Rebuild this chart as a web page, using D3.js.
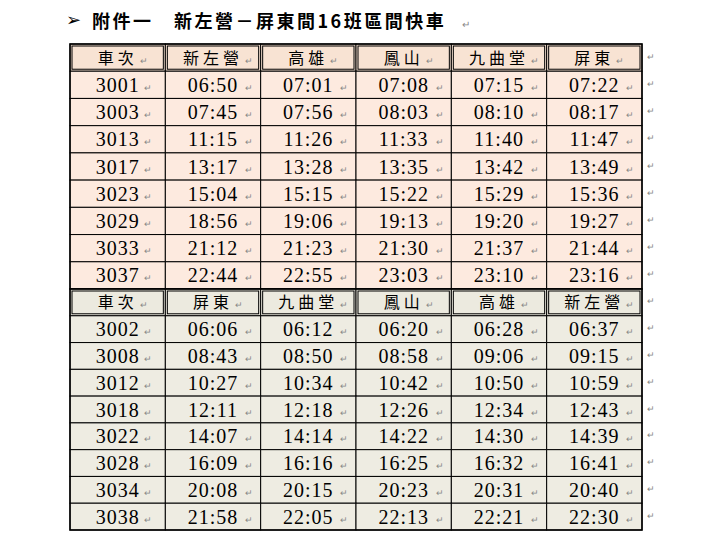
<!DOCTYPE html><html><head><meta charset="utf-8"><script src="https://cdn.jsdelivr.net/npm/d3@7"></script>
<style>body{margin:0;background:#fff}</style></head><body><svg id="c" width="708" height="550"></svg>
<script>
const title = "附件一　新左營－屏東間16班區間快車";
const headerSouth = ["車次","新左營","高雄","鳳山","九曲堂","屏東"];
const trainsSouth = ["3001","3003","3013","3017","3023","3029","3033","3037"];
const timesSouth = [
 ["06:50","07:01","07:08","07:15","07:22"],
 ["07:45","07:56","08:03","08:10","08:17"],
 ["11:15","11:26","11:33","11:40","11:47"],
 ["13:17","13:28","13:35","13:42","13:49"],
 ["15:04","15:15","15:22","15:29","15:36"],
 ["18:56","19:06","19:13","19:20","19:27"],
 ["21:12","21:23","21:30","21:37","21:44"],
 ["22:44","22:55","23:03","23:10","23:16"]];
const headerNorth = ["車次","屏東","九曲堂","鳳山","高雄","新左營"];
const trainsNorth = ["3002","3008","3012","3018","3022","3028","3034","3038"];
const timesNorth = [
 ["06:06","06:12","06:20","06:28","06:37"],
 ["08:43","08:50","08:58","09:06","09:15"],
 ["10:27","10:34","10:42","10:50","10:59"],
 ["12:11","12:18","12:26","12:34","12:43"],
 ["14:07","14:14","14:22","14:30","14:39"],
 ["16:09","16:16","16:25","16:32","16:41"],
 ["20:08","20:15","20:23","20:31","20:40"],
 ["21:58","22:05","22:13","22:21","22:30"]];

const svg=d3.select("#c");
const x=d3.scaleLinear().domain([0,6]).range([70,642]);
const CJK="'Noto Sans CJK TC','Noto Sans CJK SC',sans-serif";
const SER="'Liberation Serif','DejaVu Serif',serif";
svg.append("text").attr("x",66).attr("y",26).attr("font-size",18).text("➢").attr("font-family","DejaVu Sans");
svg.append("text").attr("x",92).attr("y",28).attr("font-family",CJK).attr("font-size",18).attr("font-weight","bold").attr("letter-spacing",2.5).text(title);
svg.append("text").attr("x",462).attr("y",28).attr("font-size",10).attr("fill","#888").text("↵");

function block(header,trains,times,y0,y1,hdrFill,bodyFill){
  const rows=[header].concat(trains.map((t,i)=>[t].concat(times[i])));
  const y=d3.scaleLinear().domain([0,rows.length]).range([y0,y1]);
  const g=svg.append("g");
  rows.forEach((r,ri)=>{
    r.forEach((v,ci)=>{
      const cx0=x(ci),cx1=x(ci+1),ry0=y(ri),ry1=y(ri+1);
      g.append("rect").attr("x",cx0).attr("y",ry0).attr("width",cx1-cx0).attr("height",ry1-ry0)
        .attr("fill",ri==0?hdrFill:bodyFill).attr("stroke","#000").attr("stroke-width",1);
      if(ri==0) g.append("rect").attr("x",cx0+2).attr("y",ry0+2).attr("width",cx1-cx0-4).attr("height",ry1-ry0-4).attr("fill","none").attr("stroke","#000").attr("stroke-width",1);
      const isC=ri==0;
      const t=g.append("text").attr("x",(cx0+cx1)/2).attr("y",(ry0+ry1)/2+(isC?6:7)).attr("text-anchor","middle")
        .attr("font-family",isC?CJK:SER).attr("font-size",isC?16:20).attr("letter-spacing",isC?4:1).text(v);
      g.append("text").attr("x",(cx0+cx1)/2+(isC?v.length*10+2:v.length*6+2)).attr("y",(ry0+ry1)/2+6).attr("font-size",9).attr("fill","#888").text("↵");
    });
    g.append("text").attr("x",647).attr("y",(y(ri)+y(ri+1))/2+2).attr("font-size",9).attr("fill","#888").text("↵");
  });
  g.append("rect").attr("x",x(0)).attr("y",y0).attr("width",x(6)-x(0)).attr("height",y1-y0).attr("fill","none").attr("stroke","#000").attr("stroke-width",1.5);
}
block(headerSouth,trainsSouth,timesSouth,44,289,"#f8e3d3","#fdeadf");
block(headerNorth,trainsNorth,timesNorth,289,530,"#eceadf","#eeece2");
</script></body></html>
